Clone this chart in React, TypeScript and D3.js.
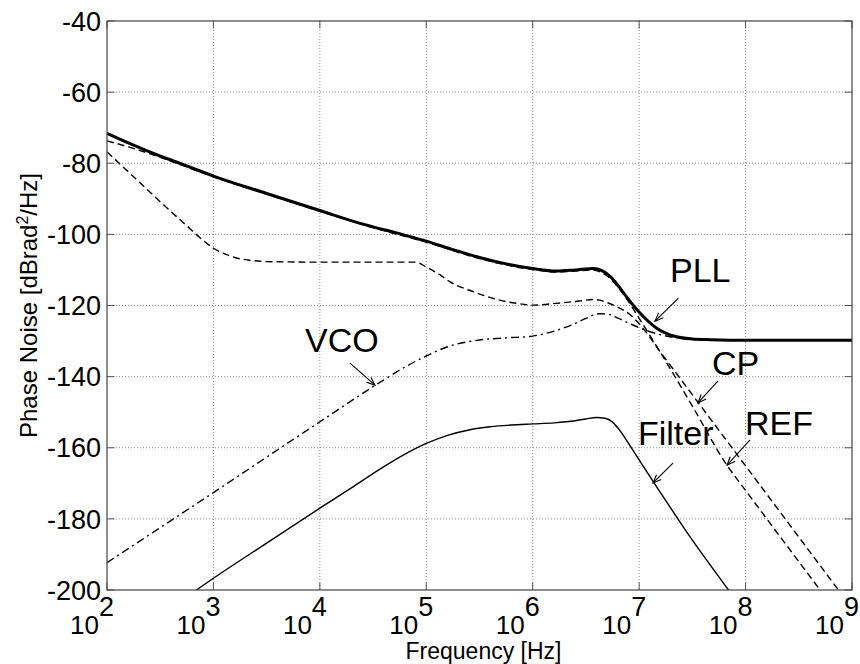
import React from 'react';
import * as d3 from 'd3';

// ---------- data (frequency given as log10 of Hz, noise in dBrad^2/Hz) ----------
const pllLogF = [2.0, 2.2, 2.4, 2.7, 3.0, 3.5, 4.0, 4.38, 4.77, 5.0, 5.25, 5.5, 5.75, 6.0, 6.22, 6.4, 6.57, 6.65, 6.73, 6.8, 6.88, 7.01, 7.165, 7.35, 7.5, 7.67, 8.0, 9.0];
const pllDb = [-71.6, -74.3, -76.8, -80.2, -83.6, -88.5, -93.3, -96.9, -100.0, -101.9, -104.3, -106.5, -108.3, -109.6, -110.3, -110.0, -109.6, -110.2, -111.9, -114.3, -117.5, -122.2, -126.4, -128.8, -129.4, -129.6, -129.8, -129.8];

const refLogF = [2.0, 2.2, 2.4, 2.7, 3.0, 3.5, 4.0, 4.5, 5.0, 5.5, 6.0, 6.22, 6.4, 6.57, 6.65, 6.73, 6.8, 6.9, 7.0, 7.2, 7.5, 7.82, 8.0, 8.5, 9.0];
const refDb = [-73.7, -75.4, -77.3, -80.5, -83.8, -88.7, -93.5, -98.1, -102.2, -106.8, -109.9, -110.6, -110.3, -110.0, -110.8, -112.5, -114.8, -118.9, -123.6, -133.2, -148.3, -164.7, -172.0, -192.0, -212.0];

const cpLogF = [2.0, 2.25, 2.5, 2.75, 2.9, 3.0, 3.1, 3.2, 3.35, 3.5, 4.0, 4.9, 5.0, 5.13, 5.22, 5.44, 5.69, 5.85, 6.0, 6.22, 6.45, 6.57, 6.63, 6.7, 6.8, 6.9, 7.0, 7.2, 7.56, 8.0, 8.5, 9.0];
const cpDb = [-76.8, -83.8, -90.8, -97.6, -101.6, -103.9, -105.4, -106.5, -107.3, -107.65, -107.8, -107.8, -109.2, -111.4, -113.3, -116.1, -118.5, -119.4, -119.9, -119.4, -118.7, -118.3, -118.5, -119.2, -120.5, -122.2, -125.1, -133.1, -147.5, -165.1, -185.1, -205.1];

const vcoLogF = [2.0, 3.0, 4.0, 4.56, 4.8, 5.0, 5.2, 5.5, 5.75, 6.0, 6.2, 6.38, 6.5, 6.63, 6.7, 6.79, 6.9, 7.01, 7.15, 7.29, 7.5, 8.0, 9.0];
const vcoDb = [-192.3, -172.6, -152.7, -141.7, -137.3, -134.2, -131.6, -129.7, -129.1, -128.6, -127.2, -125.3, -123.6, -122.3, -122.4, -123.4, -124.9, -126.4, -127.8, -128.8, -129.5, -129.8, -129.8];

const filterLogF = [2.7, 2.84, 3.0, 3.5, 4.0, 4.3, 4.565, 4.8, 5.0, 5.2, 5.4, 5.6, 5.8, 6.0, 6.2, 6.4, 6.5, 6.6, 6.68, 6.75, 6.82, 6.9, 7.0, 7.2, 7.5, 7.84, 8.1];
const filterDb = [-202.9, -200.0, -196.7, -186.8, -177.0, -171.2, -166.0, -161.8, -158.8, -156.5, -155.0, -154.1, -153.6, -153.3, -153.0, -152.4, -151.9, -151.5, -151.7, -152.8, -155.2, -158.8, -163.4, -172.6, -186.0, -200.0, -210.4];

const xTickExps = [2, 3, 4, 5, 6, 7, 8, 9];
const yTicks = [-40, -60, -80, -100, -120, -140, -160, -180, -200];

// annotations: label, text anchor (logF, dB), arrow start, arrow tip
const annLabels = ['PLL', 'CP', 'REF', 'Filter', 'VCO'];
const annText = [[7.29, -113.4], [7.684, -139.5], [7.995, -156.4], [6.989, -159.2], [3.86, -133.1]];
const annFrom = [[7.369, -117.9], [7.741, -141.2], [8.042, -157.8], [7.318, -164.3], [4.283, -136.2]];
const annTo = [[7.149, -124.4], [7.553, -147.4], [7.826, -164.9], [7.13, -169.9], [4.518, -142.4]];

// ---------- layout ----------
const W = 860, H = 664;
const L = 107, R = 852, T = 21, B = 590;
const FONT = 'Arial, "Liberation Sans", Helvetica, sans-serif';

const x = d3.scaleLog().domain([1e2, 1e9]).range([L, R]);
const y = d3.scaleLinear().domain([-200, -40]).range([B, T]);

const toPts = (lf: number[], db: number[]) => lf.map((e, i) => [x(Math.pow(10, e)), y(db[i])] as [number, number]);
const line = d3.line<[number, number]>().x(d => d[0]).y(d => d[1]).curve(d3.curveMonotoneX);

const series = [
  { lf: filterLogF, db: filterDb, w: 1.4, dash: undefined },
  { lf: vcoLogF, db: vcoDb, w: 1.4, dash: '8 4 2 4' },
  { lf: cpLogF, db: cpDb, w: 1.4, dash: '7 4' },
  { lf: refLogF, db: refDb, w: 1.4, dash: '7 4' },
  { lf: pllLogF, db: pllDb, w: 3, dash: undefined },
];

function Arrow({ x1, y1, x2, y2 }: { x1: number; y1: number; x2: number; y2: number }) {
  const ang = Math.atan2(y2 - y1, x2 - x1);
  const hl = 9, ha = 0.38;
  const p1 = [x2 - hl * Math.cos(ang - ha), y2 - hl * Math.sin(ang - ha)];
  const p2 = [x2 - hl * Math.cos(ang + ha), y2 - hl * Math.sin(ang + ha)];
  return (
    <g stroke="#000" strokeWidth={1.1} fill="none">
      <line x1={x1} y1={y1} x2={x2} y2={y2} />
      <polyline points={`${p1[0]},${p1[1]} ${x2},${y2} ${p2[0]},${p2[1]}`} />
    </g>
  );
}

export default function App() {
  const tickLen = 7.5;
  return (
    <svg width={W} height={H} style={{ position: 'absolute', left: 0, top: 0, background: '#fff' }} fontFamily={FONT}>
      <rect x={0} y={0} width={W} height={H} fill="#fff" />
      <defs>
        <clipPath id="plotclip">
          <rect x={L} y={T} width={R - L} height={B - T} />
        </clipPath>
      </defs>
      {/* grid */}
      <g stroke="#8c8c8c" strokeWidth={1} strokeDasharray="1 2">
        {xTickExps.slice(1, -1).map(e => (
          <line key={'gx' + e} x1={x(Math.pow(10, e))} x2={x(Math.pow(10, e))} y1={T} y2={B} />
        ))}
        {yTicks.slice(1, -1).map(v => (
          <line key={'gy' + v} x1={L} x2={R} y1={y(v)} y2={y(v)} />
        ))}
      </g>
      {/* ticks */}
      <g stroke="#555" strokeWidth={1}>
        {xTickExps.map(e => (
          <g key={'tx' + e}>
            <line x1={x(Math.pow(10, e))} x2={x(Math.pow(10, e))} y1={B} y2={B - tickLen} />
            <line x1={x(Math.pow(10, e))} x2={x(Math.pow(10, e))} y1={T} y2={T + tickLen} />
          </g>
        ))}
        {yTicks.map(v => (
          <g key={'ty' + v}>
            <line x1={L} x2={L + tickLen} y1={y(v)} y2={y(v)} />
            <line x1={R} x2={R - tickLen} y1={y(v)} y2={y(v)} />
          </g>
        ))}
      </g>
      {/* curves */}
      <g clipPath="url(#plotclip)" fill="none" stroke="#000">
        {series.map((s, i) => (
          <path key={i} d={line(toPts(s.lf, s.db)) || ''} strokeWidth={s.w} strokeDasharray={s.dash} strokeLinejoin="round" />
        ))}
      </g>
      {/* axes box */}
      <rect x={L} y={T} width={R - L} height={B - T} fill="none" stroke="#444" strokeWidth={1.2} />
      {/* y tick labels */}
      {yTicks.map(v => (
        <text key={'yl' + v} x={L - 6} y={y(v)} dy="0.36em" textAnchor="end" fontSize={27} fill="#000">{v}</text>
      ))}
      {/* x tick labels */}
      {xTickExps.map(e => {
        const xp = x(Math.pow(10, e));
        return (
          <g key={'xl' + e} fill="#000">
            <text x={xp - 8} y={634} textAnchor="end" fontSize={26}>10</text>
            <text x={xp - 8} y={616} textAnchor="start" fontSize={27}>{e}</text>
          </g>
        );
      })}
      {/* axis labels */}
      <text x={(L + R) / 2 + 4} y={659} textAnchor="middle" fontSize={23} fill="#000">Frequency [Hz]</text>
      <text transform={`translate(37, ${(T + B) / 2}) rotate(-90)`} textAnchor="middle" fontSize={24} fill="#000">
        Phase Noise [dBrad<tspan dy={-9} fontSize={16}>2</tspan><tspan dy={9}>/Hz]</tspan>
      </text>
      {/* annotations */}
      {annLabels.map((lab, i) => (
        <g key={lab}>
          <text x={x(Math.pow(10, annText[i][0]))} y={y(annText[i][1])} fontSize={34} fill="#000">{lab}</text>
          <Arrow
            x1={x(Math.pow(10, annFrom[i][0]))}
            y1={y(annFrom[i][1])}
            x2={x(Math.pow(10, annTo[i][0]))}
            y2={y(annTo[i][1])}
          />
        </g>
      ))}
    </svg>
  );
}
